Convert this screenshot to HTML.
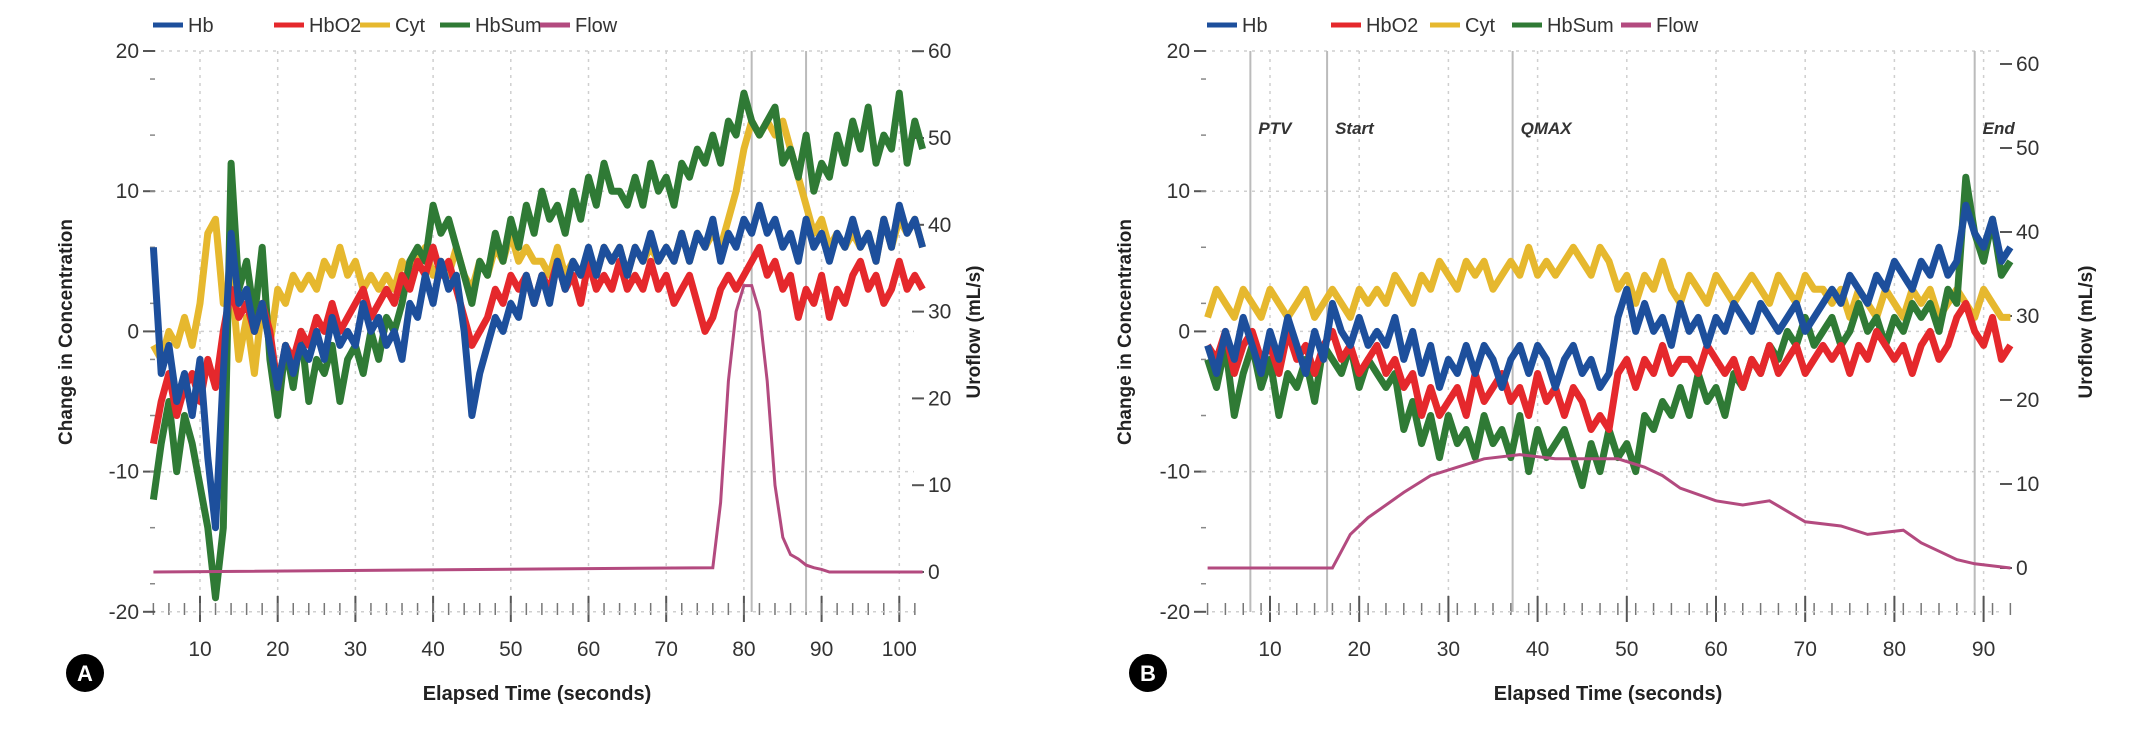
<!DOCTYPE html>
<html><head><meta charset="utf-8"><style>
body{margin:0;background:#fff;}
svg text{font-family:"Liberation Sans",sans-serif;}
</style></head><body>
<svg id="fig" width="2145" height="750" viewBox="0 0 2145 750" xmlns="http://www.w3.org/2000/svg"></svg>
<script>
// ---- Chart A data (1 s sampling from tStartA) ----
const tStartA = 4;
const hbA = [6,-3,-1,-5,-3,-6,-2,-9,-14,-3, 7,2,3,0,2,-1,-4,-1,-3,-1, -2,0,-2,1,-1,0,-1,2,0,1, -1,0,-2,2,1,4,2,5,3,4, 0,-6,-3,-1,1,0,2,1,4,2, 4,2,5,3,5,4,6,4,6,5, 6,4,6,5,7,5,6,5,7,5, 7,6,8,5,7,6,8,7,9,7, 8,6,7,5,8,6,7,5,7,6, 8,6,7,5,8,6,9,7,8,6];
const hbo2A = [-8,-5,-3,-6,-4,-3,-5,-2,-4,0, 3,1,2,0,2,0,-4,-1,-2,0, -1,1,0,2,0,1,2,3,1,2, 3,2,4,3,5,4,6,4,5,3, 1,-1,0,1,3,2,4,3,4,2, 4,3,5,3,4,2,5,3,4,3, 5,3,4,3,5,3,4,2,3,4, 2,0,1,3,4,3,4,5,6,4, 5,3,4,1,3,2,4,1,3,2, 4,5,3,4,2,3,5,3,4,3];
const cytA = [-1,-2,0,-1,1,-1,2,7,8,2, 4,-2,1,-3,2,-1,3,2,4,3, 4,3,5,4,6,4,5,3,4,3, 4,3,5,4,5,6,4,5,4,6, 4,3,5,4,6,5,7,5,6,5, 5,4,6,4,5,4,5,4,6,5, 6,4,6,5,6,5,6,5,7,5, 7,6,7,6,8,10,13,15,14,15, 14,15,13,11,9,7,8,6,7,6, 7,6,7,5,8,6,8,7,8,6];
const sumA = [-12,-8,-5,-10,-6,-8,-11,-14,-19,-14, 12,3,5,1,6,-2,-6,-1,-4,0, -5,-2,-3,-1,-5,-2,-1,-3,0,-2, 1,0,2,5,6,5,9,7,8,6, 4,2,5,4,7,5,8,6,9,7, 10,8,9,7,10,8,11,9,12,10, 10,9,11,9,12,10,11,9,12,11, 13,12,14,12,15,14,17,15,14,15, 16,12,13,11,14,10,12,11,14,12, 15,13,16,12,14,13,17,12,15,13];
const flowTA = [4,76,77,78,79,80,81,82,83,84,85,86,87,88,89,90,91,103];
const flowVA = [0,0.5,8,22,30,33,33,30,22,10,4,2,1.5,0.8,0.5,0.3,0,0];
const markersA = [81,88];
// ---- Chart B data ----
const tStartB = 3;
const hbB = [-1,-3,0,-2,1,-1,-3,0,-2,1, -1,-3,0,-2,2,0,-1,1,-1,0, -1,1,-2,0,-3,-1,-4,-2,-3,-1, -3,-1,-2,-4,-2,-1,-3,-1,-2,-4, -2,-1,-3,-2,-4,-3,1,3,0,2, 0,1,-1,2,0,1,-1,1,0,2, 1,0,2,1,0,1,2,0,1,2, 3,2,4,3,2,4,3,5,4,3, 5,4,6,4,5,9,7,6,8,5, 6];
const hbo2B = [-1,-2,0,-3,-1,0,-2,-1,-3,0, -2,-1,-3,-1,0,-2,-1,-3,-2,-1, -3,-2,-4,-3,-6,-4,-6,-5,-4,-6, -3,-5,-4,-3,-5,-4,-6,-3,-5,-4, -6,-4,-5,-7,-6,-7,-3,-2,-4,-2, -3,-1,-3,-2,-2,-3,-1,-2,-3,-2, -4,-2,-3,-1,-3,-2,-1,-3,-2,-1, -2,-1,-3,-1,-2,0,-1,-2,-1,-3, -1,0,-2,-1,1,2,0,-1,1,-2, -1];
const cytB = [1,3,2,1,3,2,1,3,2,1, 2,3,1,2,3,2,1,3,2,3, 2,4,3,2,4,3,5,4,3,5, 4,5,3,4,5,4,6,4,5,4, 5,6,5,4,6,5,3,4,2,4, 3,5,3,2,4,3,2,4,3,2, 3,4,3,2,4,3,2,4,3,3, 2,3,1,3,2,1,3,2,1,3, 2,3,1,2,3,2,1,3,2,1, 1];
const sumB = [-2,-4,-1,-6,-3,-1,-4,-2,-6,-3, -4,-2,-5,-1,-2,-3,-1,-4,-2,-3, -4,-3,-7,-5,-8,-6,-9,-6,-8,-7, -9,-6,-8,-7,-9,-6,-10,-7,-9,-8, -7,-9,-11,-8,-10,-7,-9,-8,-10,-6, -7,-5,-6,-4,-6,-3,-5,-4,-6,-3, -4,-2,-3,-1,-2,0,-1,1,-1,0, 1,-1,0,2,0,1,-1,1,0,2, 1,2,0,3,2,11,7,5,8,4, 5];
const flowTB = [3,17,18,19,21,23,25,28,31,34,38,42,46,49,52,54,56,60,63,66,70,74,77,81,83,85,87,89,93];
const flowVB = [0,0,2,4,6,7.5,9,11,12,13,13.5,13,13,13,12,11,9.5,8,7.5,8,5.5,5,4,4.5,3,2,1,0.5,0];
const markerTB = [7.8,16.4,37.2,89];
const markerLabelsB = ["PTV","Start","QMAX","End"];
// ---- shared tick labels ----
const leftTicks = [20,10,0,-10,-20];
const rightTicks = [60,50,40,30,20,10,0];
const xTicksA = [10,20,30,40,50,60,70,80,90,100];
const xTicksB = [10,20,30,40,50,60,70,80,90];
const seriesNames = ["Hb","HbO2","Cyt","HbSum","Flow"];
const colors = {Hb:"#1d4f9c",HbO2:"#e5282c",Cyt:"#e6b82e",HbSum:"#2f7a35",Flow:"#b34a7f"};

const NS="http://www.w3.org/2000/svg";
const svg=document.getElementById('fig');
function mk(tag,attrs,parent,name,txt){
  const e=document.createElementNS(NS,tag);
  for(const k in attrs)e.setAttribute(k,attrs[k]);
  
  
  if(txt!==undefined)e.textContent=txt;
  (parent||svg).appendChild(e);return e;
}
function chart(cfg){
  const g=mk('g',{},svg,cfg.id);
  const X=t=>cfg.x0+(t-10)*cfg.xs;
  const YL=v=>51+(20-v)*14.02;
  const YR=v=>cfg.r0-v*cfg.rs;
  cfg.xTicks.forEach(t=>{
    mk('line',{x1:X(t),x2:X(t),y1:51,y2:612,stroke:'#cfcfcf','stroke-width':1.5,'stroke-dasharray':'3 5'},g,'x-gridline');
    mk('line',{x1:X(t),x2:X(t),y1:596,y2:622,stroke:'#555','stroke-width':2},g,'x-tick');
    mk('text',{x:X(t),y:656,'font-size':21,'text-anchor':'middle',fill:'#333'},g,'x-tick-label',t);
  });
  for(let t=Math.ceil(cfg.tmin);t<=cfg.tmax;t+=2){
    mk('line',{x1:X(t),x2:X(t),y1:603,y2:615,stroke:'#777','stroke-width':1.5},g,'x-minor-tick');
  }
  leftTicks.forEach(v=>{
    mk('line',{x1:cfg.axL,x2:cfg.axR,y1:YL(v),y2:YL(v),stroke:'#cfcfcf','stroke-width':1.5,'stroke-dasharray':'3 5'},g,'y-gridline');
    mk('line',{x1:cfg.axL-10,x2:cfg.axL+2,y1:YL(v),y2:YL(v),stroke:'#555','stroke-width':2},g,'y-tick');
    mk('text',{x:cfg.axL-14,y:YL(v)+7,'font-size':21,'text-anchor':'end',fill:'#333'},g,'y-tick-label',v);
  });
  for(let v=18;v>-20;v-=4){mk('line',{x1:cfg.axL-3,x2:cfg.axL+2,y1:YL(v),y2:YL(v),stroke:'#888','stroke-width':1.5},g,'y-minor-tick');}
  rightTicks.forEach(v=>{
    mk('line',{x1:cfg.axR-2,x2:cfg.axR+10,y1:YR(v),y2:YR(v),stroke:'#555','stroke-width':2},g,'y2-tick');
    mk('text',{x:cfg.axR+14,y:YR(v)+7,'font-size':21,fill:'#333'},g,'y2-tick-label',v);
  });
  cfg.markers.forEach((t,i)=>{
    mk('line',{x1:X(t),x2:X(t),y1:51,y2:612,stroke:'#bbb','stroke-width':2},g,'event-line');
    if(cfg.markerLabels)mk('text',{x:X(t)+8,y:134,'font-size':17,'font-style':'italic','font-weight':'bold',fill:'#333'},g,'event-label',cfg.markerLabels[i]);
  });
  const line=(vals,col,name)=>{
    const p=vals.map((v,i)=>(i?'L':'M')+X(cfg.t0+i).toFixed(1)+' '+YL(v).toFixed(1)).join(' ');
    mk('path',{d:p,fill:'none',stroke:col,'stroke-width':7,'stroke-linejoin':'round'},g,name);
  };
  line(cfg.cyt,colors.Cyt,'cyt-line');
  line(cfg.sum,colors.HbSum,'hbsum-line');
  line(cfg.hbo2,colors.HbO2,'hbo2-line');
  line(cfg.hb,colors.Hb,'hb-line');
  const fp=cfg.fT.map((t,i)=>(i?'L':'M')+X(t).toFixed(1)+' '+YR(cfg.fV[i]).toFixed(1)).join(' ');
  mk('path',{d:fp,fill:'none',stroke:colors.Flow,'stroke-width':3},g,'flow-line');
  seriesNames.forEach((n,i)=>{
    mk('line',{x1:cfg.leg[i],x2:cfg.leg[i]+30,y1:25,y2:25,stroke:colors[n],'stroke-width':5},g,'legend-swatch');
    mk('text',{x:cfg.leg[i]+35,y:32,'font-size':20,fill:'#333'},g,'legend-entry',n);
  });
  mk('text',{x:cfg.titleX,y:332,'font-size':19,'font-weight':'bold','text-anchor':'middle',fill:'#222',transform:`rotate(-90 ${cfg.titleX} 332)`},g,'y-axis-title','Change in Concentration');
  mk('text',{x:cfg.title2X,y:332,'font-size':19,'font-weight':'bold','text-anchor':'middle',fill:'#222',transform:`rotate(-90 ${cfg.title2X} 332)`},g,'y2-axis-title','Uroflow (mL/s)');
  mk('text',{x:cfg.xTitleX,y:700,'font-size':20,'font-weight':'bold','text-anchor':'middle',fill:'#222'},g,'x-axis-title','Elapsed Time (seconds)');
  mk('circle',{cx:cfg.badgeX,cy:673,r:19,fill:'#000'},g,'panel-badge');
  mk('text',{x:cfg.badgeX,y:681,'font-size':22,'font-weight':'bold','text-anchor':'middle',fill:'#fff'},g,'panel-label',cfg.label);
}
chart({id:'chart-a',x0:200,xs:7.77,r0:572,rs:8.68,axL:153,axR:914,tmin:4,tmax:103,t0:tStartA,
  xTicks:xTicksA,hb:hbA,hbo2:hbo2A,cyt:cytA,sum:sumA,fT:flowTA,fV:flowVA,markers:markersA,
  leg:[153,274,360,440,540],titleX:72,title2X:980,xTitleX:537,badgeX:85,label:'A'});
chart({id:'chart-b',x0:1270,xs:8.92,r0:568,rs:8.4,axL:1204,axR:2002,tmin:3,tmax:93,t0:tStartB,
  xTicks:xTicksB,hb:hbB,hbo2:hbo2B,cyt:cytB,sum:sumB,fT:flowTB,fV:flowVB,markers:markerTB,markerLabels:markerLabelsB,
  leg:[1207,1331,1430,1512,1621],titleX:1131,title2X:2092,xTitleX:1608,badgeX:1148,label:'B'});
</script>
</body></html>
